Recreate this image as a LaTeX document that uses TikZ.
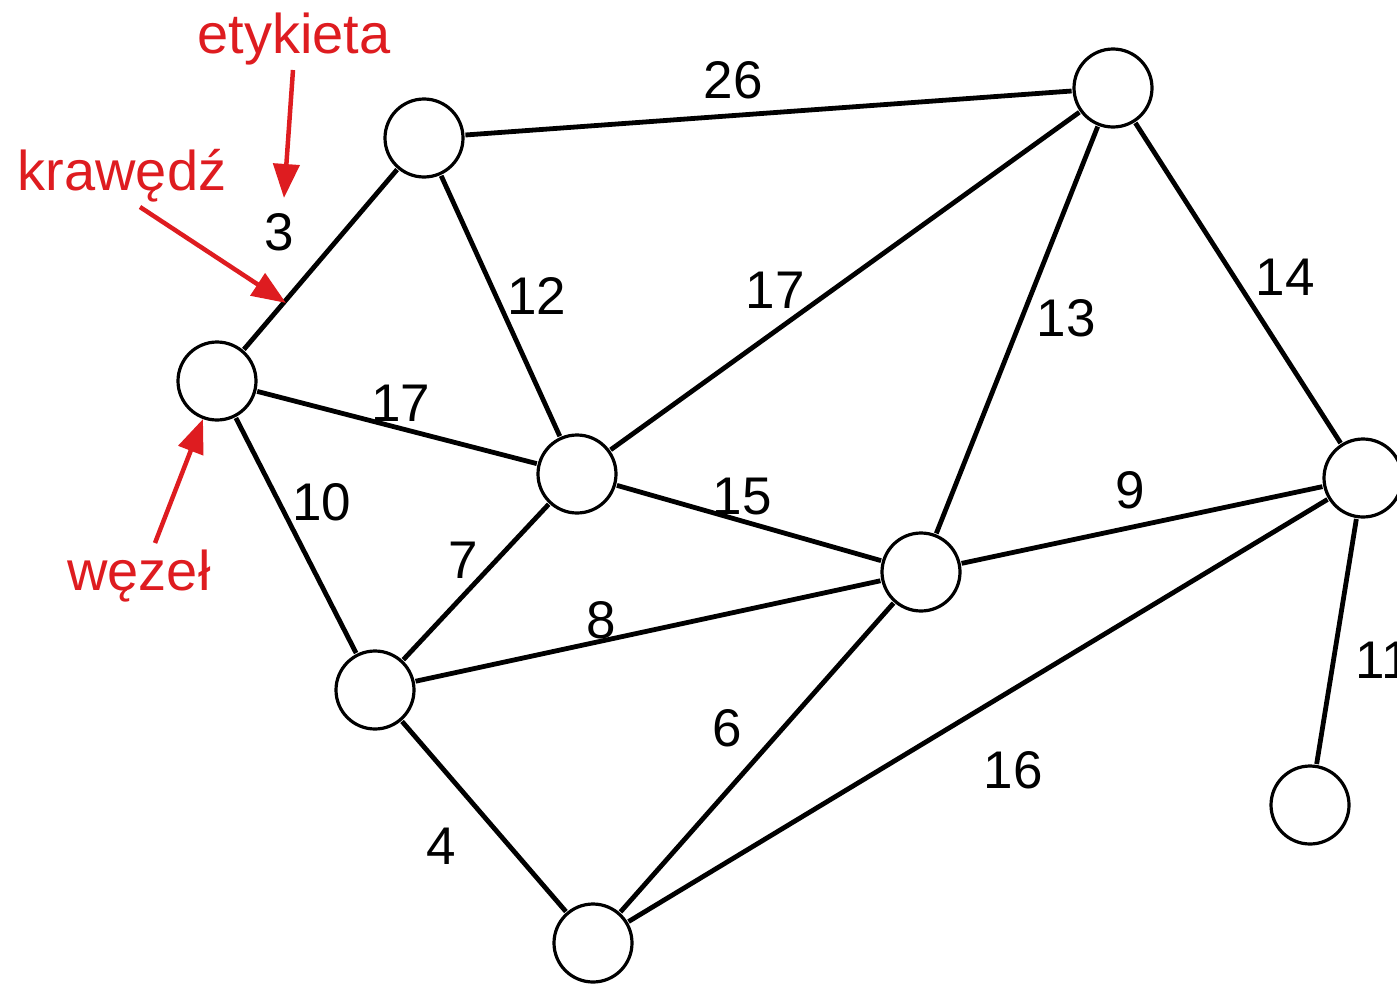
\documentclass[tikz,border=0pt]{standalone}
\usepackage{fontspec}
\setmainfont{Liberation Sans}
\usetikzlibrary{arrows.meta}
\definecolor{annot}{RGB}{222,28,32}
\tikzset{
  vertex/.style={circle, draw, line width=3.2pt, minimum size=78pt, inner sep=0pt, outer sep=2.5pt, fill=white},
  edge/.style={line width=4.8pt},
  weight/.style={font=\fontsize{53}{60}\selectfont, inner sep=0pt},
  note/.style={font=\fontsize{56}{60}\selectfont, text=annot, inner sep=0pt, anchor=base},
  pointer/.style={draw=annot, line width=4.5pt, -{Triangle[length=34pt,width=26pt]}}
}
\begin{document}
\begin{tikzpicture}[x=1pt,y=-1pt]
  \useasboundingbox (0,0) rectangle (1397,985);

  % vertices
  \node[vertex] (a) at (424,138) {};
  \node[vertex] (b) at (1113,88) {};
  \node[vertex] (c) at (217,381) {};
  \node[vertex] (d) at (577,474) {};
  \node[vertex] (e) at (921,572) {};
  \node[vertex] (f) at (1363,478) {};
  \node[vertex] (g) at (375,690) {};
  \node[vertex] (h) at (593,943) {};
  \node[vertex] (i) at (1310,805) {};

  % edges
  \draw[edge] (a) -- (b);
  \draw[edge] (a) -- (c);
  \draw[edge] (a) -- (d);
  \draw[edge] (c) -- (d);
  \draw[edge] (c) -- (g);
  \draw[edge] (d) -- (b);
  \draw[edge] (d) -- (e);
  \draw[edge] (d) -- (g);
  \draw[edge] (g) -- (e);
  \draw[edge] (g) -- (h);
  \draw[edge] (h) -- (e);
  \draw[edge] (h) -- (f);
  \draw[edge] (e) -- (b);
  \draw[edge] (e) -- (f);
  \draw[edge] (b) -- (f);
  \draw[edge] (f) -- (i);

  % edge weights
  \node[weight] (wab) at (733,80) {26};
  \node[weight] (wac) at (279,232) {3};
  \node[weight] (wad) at (537,296) {12};
  \node[weight] (wdb) at (775,290) {17};
  \node[weight] (web) at (1066,318) {13};
  \node[weight] (wbf) at (1285,277) {14};
  \node[weight] (wcd) at (401,403) {17};
  \node[weight] (wcg) at (322,502) {10};
  \node[weight] (wde) at (742,497) {15};
  \node[weight] (wef) at (1130,490) {9};
  \node[weight] (wdg) at (463,560) {7};
  \node[weight] (wge) at (601,620) {8};
  \node[weight] (wfi) at (1383,660) {11};
  \node[weight] (whe) at (727,728) {6};
  \node[weight] (whf) at (1013,770) {16};
  \node[weight] (wgh) at (441,846) {4};

  % annotations
  \node[note] (tl) at (294,53) {etykieta};
  \node[note] (tk) at (122,190) {krawędź};
  \node[note] (tw) at (139,590) {węzeł};
  \coordinate (tipl) at (284,198);
  \coordinate (tipk) at (286,303);
  \coordinate (tipw) at (203,419);
  \draw[pointer] (293,70) -- (tipl);
  \draw[pointer] (140,207) -- (tipk);
  \draw[pointer] (155,543) -- (tipw);
\end{tikzpicture}
\end{document}
